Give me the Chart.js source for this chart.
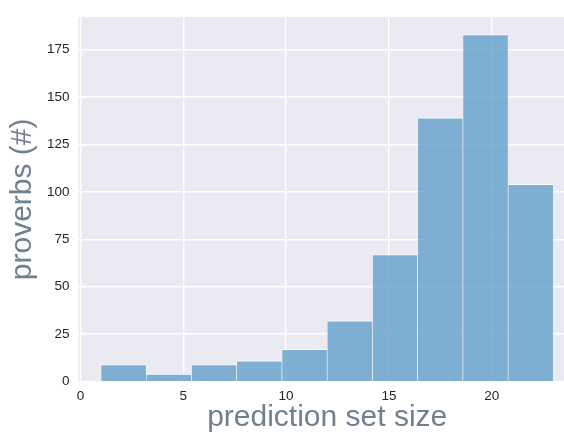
<!DOCTYPE html>
<html>
<head>
<meta charset="utf-8">
<title>Prediction set size histogram</title>
<script src="https://cdn.jsdelivr.net/npm/chart.js@4/dist/chart.umd.min.js"></script>
<style>
  html, body { margin: 0; padding: 0; background: #ffffff; overflow: hidden; }
  canvas { display: block; }
</style>
</head>
<body>
<!-- the figure is a little wider than the window; its right margin falls outside the view -->
<canvas id="hist" width="576" height="434"></canvas>
<script>
// Histogram bins: edges along the set-size axis and the count in each bin
const binEdges = [1, 3.2, 5.4, 7.6, 9.8, 12, 14.2, 16.4, 18.6, 20.8, 23];
const counts = [9, 4, 9, 11, 17, 32, 67, 139, 183, 104];
const xTicks = [0, 5, 10, 15, 20];
const yTicks = [0, 25, 50, 75, 100, 125, 150, 175];

// each bar sits at the middle of its bin
const points = counts.map((c, i) => ({ x: (binEdges[i] + binEdges[i + 1]) / 2, y: c }));

const xMin = -0.1, xMax = 24.1;
const yMax = Math.max(...counts) * 1.05;

const axisTitleColor = '#708090';
const tickColor = '#262626';
const fontFamily = 'Liberation Sans, Arial, sans-serif';

// lavender panel behind the plot
const panelBackground = {
  id: 'panelBackground',
  beforeDraw(chart) {
    const { ctx, chartArea: a } = chart;
    ctx.save();
    ctx.fillStyle = '#EAEAF2';
    ctx.fillRect(a.left, a.top, a.right - a.left, a.bottom - a.top);
    ctx.restore();
  }
};

new Chart(document.getElementById('hist'), {
  type: 'bar',
  data: {
    datasets: [{
      data: points,
      backgroundColor: 'rgba(96,156,203,0.78)',
      borderColor: 'rgba(255,255,255,0.9)',
      borderWidth: { top: 1, left: 0.6, right: 0.6, bottom: 0 },
      borderSkipped: false,
      barPercentage: 1,
      categoryPercentage: 1
    }]
  },
  options: {
    responsive: false,
    devicePixelRatio: 1,
    animation: false,
    layout: { padding: { top: 11.5, right: 0, left: 0, bottom: 0 } },
    plugins: { legend: { display: false }, tooltip: { enabled: false } },
    scales: {
      x: {
        type: 'linear',
        offset: false,
        min: xMin,
        max: xMax,
        afterBuildTicks(scale) { scale.ticks = xTicks.map(v => ({ value: v })); },
        afterFit(scale) { scale.height = 52.4; },
        ticks: {
          padding: 7,
          color: tickColor,
          font: { family: fontFamily, size: 13.5 },
          maxRotation: 0
        },
        grid: { color: '#ffffff', lineWidth: 1.4, drawTicks: false, offset: false },
        border: { display: false },
        title: {
          display: true,
          text: 'prediction set size',
          color: axisTitleColor,
          font: { family: fontFamily, size: 30, lineHeight: 1 },
          padding: { top: 0, bottom: 1.7 }
        }
      },
      y: {
        min: 0,
        max: yMax,
        afterBuildTicks(scale) { scale.ticks = yTicks.map(v => ({ value: v })); },
        afterFit(scale) { scale.width = 78.4; },
        ticks: {
          padding: 9,
          color: tickColor,
          font: { family: fontFamily, size: 13.5 }
        },
        grid: { color: '#ffffff', lineWidth: 1.4, drawTicks: false },
        border: { display: false },
        title: {
          display: true,
          text: 'proverbs (#)',
          color: axisTitleColor,
          font: { family: fontFamily, size: 30, lineHeight: 1 },
          padding: { top: 8, bottom: 0 }
        }
      }
    }
  },
  plugins: [panelBackground]
});
</script>
</body>
</html>
